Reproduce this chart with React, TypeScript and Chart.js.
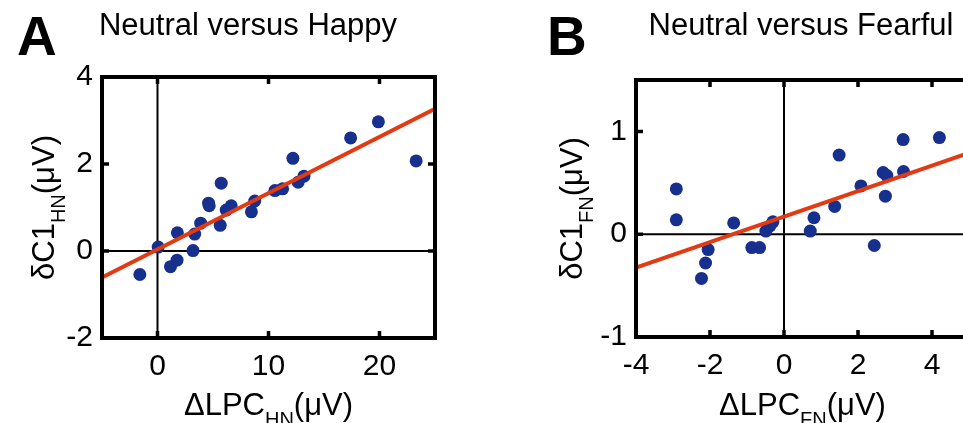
import React, { useEffect, useRef } from 'react';
import { Chart, registerables } from 'chart.js';

Chart.register(...registerables);

// ---- Panel A: Neutral versus Happy ----
const happyX = [-1.59, 0.06, 1.17, 1.76, 1.79, 3.2, 3.35, 3.89, 4.6, 4.66, 5.74, 5.65, 6.19, 6.64, 8.46, 8.76, 10.58, 11.27, 12.2, 12.67, 13.2, 17.4, 19.9, 23.3];
const happyY = [-0.54, 0.09, -0.36, -0.21, 0.42, 0.01, 0.39, 0.64, 1.1, 1.04, 1.56, 0.59, 0.94, 1.04, 0.9, 1.15, 1.39, 1.43, 2.13, 1.58, 1.72, 2.6, 2.97, 2.07];
const happyFitX = [-5, 25];
const happyFitY = [-0.61, 3.27];
const happyXTicks = [0, 10, 20];
const happyYTicks = [-2, 0, 2, 4];

// ---- Panel B: Neutral versus Fearful ----
const fearX = [-2.91, -2.91, -2.05, -2.12, -2.23, -1.36, -0.87, -0.66, -0.49, -0.38, -0.3, 0.71, 0.81, 1.37, 1.49, 2.08, 2.44, 2.68, 2.78, 2.74, 3.22, 3.23, 4.2];
const fearY = [0.44, 0.14, -0.15, -0.28, -0.43, 0.11, -0.13, -0.13, 0.03, 0.08, 0.12, 0.03, 0.16, 0.27, 0.77, 0.47, -0.11, 0.6, 0.57, 0.37, 0.92, 0.61, 0.94];
const fearFitX = [-4, 5];
const fearFitY = [-0.326, 0.79];
const fearXTicks = [-4, -2, 0, 2, 4];
const fearYTicks = [-1, 0, 1];

const FONT = "'Liberation Sans', Arial, Helvetica, sans-serif";
const BLUE = '#17308e';
const RED = '#e23a12';
const H = 423;

interface Spec {
  letter: string;
  title: string;
  sub: string;
  xs: number[];
  ys: number[];
  fitX: number[];
  fitY: number[];
  xMin: number; xMax: number; yMin: number; yMax: number;
  xTicks: number[]; yTicks: number[];
  canvasLeft: number; canvasWidth: number;
  area: { left: number; right: number; top: number; bottom: number };
  letterX: number; titleX: number; yTitleX: number;
  rightTicks: boolean;
}

const panelA: Spec = {
  letter: 'A', title: 'Neutral versus Happy', sub: 'HN',
  xs: happyX, ys: happyY, fitX: happyFitX, fitY: happyFitY,
  xMin: -5, xMax: 25, yMin: -2, yMax: 4,
  xTicks: happyXTicks, yTicks: happyYTicks,
  canvasLeft: 0, canvasWidth: 480,
  area: { left: 102, right: 435, top: 77, bottom: 338 },
  letterX: 17, titleX: 248, yTitleX: 54,
  rightTicks: true,
};

const panelB: Spec = {
  letter: 'B', title: 'Neutral versus Fearful', sub: 'FN',
  xs: fearX, ys: fearY, fitX: fearFitX, fitY: fearFitY,
  xMin: -4, xMax: 5, yMin: -1, yMax: 1.5,
  xTicks: fearXTicks, yTicks: fearYTicks,
  canvasLeft: 480, canvasWidth: 520,
  area: { left: 156, right: 489, top: 80, bottom: 337 },
  letterX: 67, titleX: 321, yTitleX: 102,
  rightTicks: false,
};

function drawComposite(ctx: CanvasRenderingContext2D, parts: { t: string; sub: boolean }[], cx: number, baseY: number) {
  const mainFont = `31px ${FONT}`;
  const subFont = `20px ${FONT}`;
  let total = 0;
  const widths = parts.map((p) => {
    ctx.font = p.sub ? subFont : mainFont;
    const w = ctx.measureText(p.t).width;
    total += w;
    return w;
  });
  let x = cx - total / 2;
  ctx.textAlign = 'left';
  ctx.textBaseline = 'alphabetic';
  parts.forEach((p, i) => {
    ctx.font = p.sub ? subFont : mainFont;
    ctx.fillText(p.t, x, p.sub ? baseY + 11 : baseY);
    x += widths[i];
  });
}

function makePlugin(spec: Spec) {
  return {
    id: 'matlabBox' + spec.letter,
    beforeDatasetsDraw(chart: any) {
      const { ctx, chartArea: a, scales } = chart;
      const x0 = scales.x.getPixelForValue(0);
      const y0 = scales.y.getPixelForValue(0);
      ctx.save();
      ctx.strokeStyle = '#000';
      ctx.lineWidth = 2;
      ctx.beginPath();
      ctx.moveTo(x0, a.top);
      ctx.lineTo(x0, a.bottom);
      ctx.moveTo(a.left, y0);
      ctx.lineTo(a.right, y0);
      ctx.stroke();
      ctx.restore();
    },
    afterDraw(chart: any) {
      const { ctx, chartArea: a, scales } = chart;
      ctx.save();
      ctx.strokeStyle = '#000';
      ctx.lineWidth = 4;
      ctx.strokeRect(a.left, a.top, a.right - a.left, a.bottom - a.top);
      const tl = 7;
      ctx.lineWidth = 3.5;
      ctx.beginPath();
      spec.xTicks.forEach((v) => {
        const px = scales.x.getPixelForValue(v);
        ctx.moveTo(px, a.bottom);
        ctx.lineTo(px, a.bottom - tl);
        ctx.moveTo(px, a.top);
        ctx.lineTo(px, a.top + tl);
      });
      spec.yTicks.forEach((v) => {
        const py = scales.y.getPixelForValue(v);
        ctx.moveTo(a.left, py);
        ctx.lineTo(a.left + tl, py);
        if (spec.rightTicks) {
          ctx.moveTo(a.right, py);
          ctx.lineTo(a.right - tl, py);
        }
      });
      ctx.stroke();

      ctx.fillStyle = '#000';
      // panel letter
      ctx.font = `bold 55px ${FONT}`;
      ctx.textAlign = 'left';
      ctx.textBaseline = 'alphabetic';
      ctx.fillText(spec.letter, spec.letterX, 55);
      // title
      ctx.font = `31px ${FONT}`;
      ctx.textAlign = 'center';
      ctx.fillText(spec.title, spec.titleX, 35);

      // x-axis title
      const cx = (a.left + a.right) / 2;
      drawComposite(ctx, [
        { t: '\u0394LPC', sub: false },
        { t: spec.sub, sub: true },
        { t: '(\u03BCV)', sub: false },
      ], cx, 415);

      // y-axis title
      const cy = (a.top + a.bottom) / 2;
      ctx.save();
      ctx.translate(spec.yTitleX, cy);
      ctx.rotate(-Math.PI / 2);
      drawComposite(ctx, [
        { t: '\u03B4C1', sub: false },
        { t: spec.sub, sub: true },
        { t: '(\u03BCV)', sub: false },
      ], 0, 0);
      ctx.restore();
      ctx.restore();
    },
  };
}

function Panel({ spec }: { spec: Spec }) {
  const ref = useRef<HTMLCanvasElement | null>(null);
  useEffect(() => {
    if (!ref.current) return;
    const a = spec.area;
    const yW = 60;
    const xH = 40;
    const chart = new Chart(ref.current, {
      type: 'scatter',
      data: {
        datasets: [
          {
            type: 'line',
            data: spec.fitX.map((x, i) => ({ x, y: spec.fitY[i] })),
            borderColor: RED,
            borderWidth: 4,
            pointRadius: 0,
            fill: false,
            order: 0,
          } as any,
          {
            type: 'scatter',
            data: spec.xs.map((x, i) => ({ x, y: spec.ys[i] })),
            backgroundColor: BLUE,
            borderColor: BLUE,
            borderWidth: 0,
            pointRadius: 6.5,
            order: 1,
          } as any,
        ],
      },
      options: {
        responsive: false,
        animation: false,
        devicePixelRatio: 1,
        layout: {
          padding: {
            left: a.left - yW,
            right: spec.canvasWidth - a.right,
            top: a.top,
            bottom: H - a.bottom - xH,
          },
        },
        plugins: {
          legend: { display: false },
          tooltip: { enabled: false },
          title: { display: false },
        },
        scales: {
          x: {
            type: 'linear',
            min: spec.xMin,
            max: spec.xMax,
            grid: { display: false, drawTicks: false },
            border: { display: false },
            ticks: {
              color: '#000',
              font: { family: FONT, size: 30 },
              padding: 11,
              maxRotation: 0,
              autoSkip: false,
              callback: (v: any) => String(v),
            },
            afterBuildTicks: (s: any) => {
              s.ticks = spec.xTicks.map((v) => ({ value: v }));
            },
            afterFit: (s: any) => {
              s.height = xH;
            },
          },
          y: {
            type: 'linear',
            min: spec.yMin,
            max: spec.yMax,
            grid: { display: false, drawTicks: false },
            border: { display: false },
            ticks: {
              color: '#000',
              font: { family: FONT, size: 30 },
              padding: 9,
              autoSkip: false,
              callback: (v: any) => String(v),
            },
            afterBuildTicks: (s: any) => {
              s.ticks = spec.yTicks.map((v) => ({ value: v }));
            },
            afterFit: (s: any) => {
              s.width = yW;
            },
          },
        },
      } as any,
      plugins: [makePlugin(spec)],
    });
    return () => chart.destroy();
  }, [spec]);
  return (
    <canvas
      ref={ref}
      width={spec.canvasWidth}
      height={H}
      style={{ position: 'absolute', left: spec.canvasLeft, top: 0, width: spec.canvasWidth, height: H }}
    />
  );
}

export default function App() {
  return (
    <div
      style={{
        position: 'fixed',
        left: 0,
        top: 0,
        width: 963,
        height: H,
        overflow: 'hidden',
        background: '#fff',
      }}
    >
      <Panel spec={panelA} />
      <Panel spec={panelB} />
    </div>
  );
}
